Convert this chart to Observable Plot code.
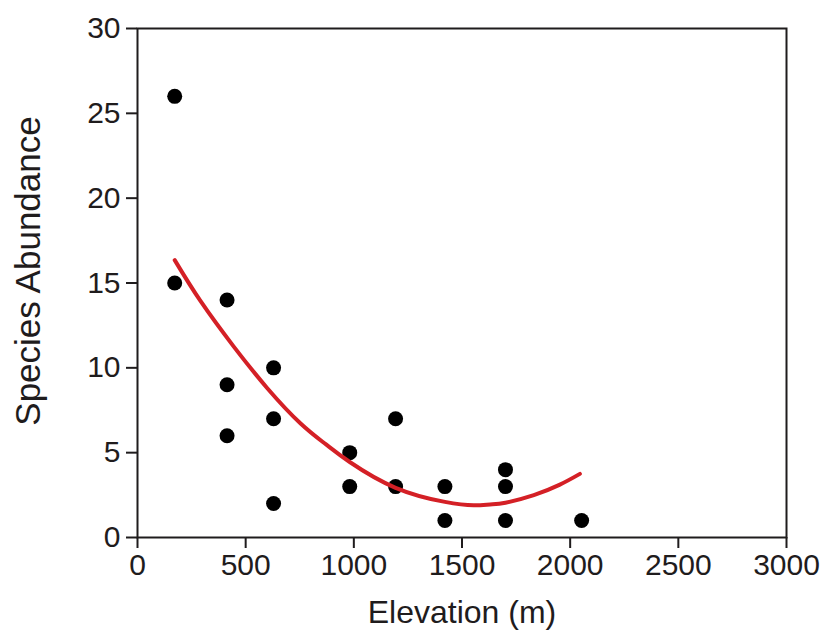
<!DOCTYPE html>
<html>
<head>
<meta charset="utf-8">
<script src="https://cdn.jsdelivr.net/npm/d3@7"></script>
<script src="https://cdn.jsdelivr.net/npm/@observablehq/plot@0.6"></script>
<style>
  html, body { margin: 0; padding: 0; background: #fff; }
</style>
</head>
<body>
<div id="chart"></div>
<script>
// Observed points: elevation (m) and species abundance
const elevation = [172, 172, 414, 414, 414, 629, 629, 629, 981, 981, 1193, 1193, 1421, 1421, 1701, 1701, 1701, 2053];
const abundance = [26, 15, 14, 9, 6, 10, 7, 2, 5, 3, 7, 3, 3, 1, 4, 3, 1, 1];

// Fitted curve
const fitElevation = [172, 291, 445, 600, 754, 870, 981, 1193, 1421, 1554, 1630, 1701, 1832, 1950, 2045];
const fitAbundance = [16.35, 13.94, 11.25, 8.8, 6.72, 5.5, 4.45, 2.93, 2.1, 1.9, 1.95, 2.05, 2.5, 3.1, 3.75];

const xTicks = [0, 500, 1000, 1500, 2000, 2500, 3000];
const yTicks = [0, 5, 10, 15, 20, 25, 30];

const xTitle = "Elevation (m)";
const yTitle = "Species Abundance";

const points = elevation.map((e, i) => ({elevation: e, abundance: abundance[i]}));
const fit = fitElevation.map((e, i) => ({elevation: e, abundance: fitAbundance[i]}));

const ink = "#1f1c1d";

const svg = Plot.plot({
  width: 831,
  height: 634,
  marginLeft: 137,
  marginRight: 45,
  marginTop: 28,
  marginBottom: 97,
  style: {fontFamily: "'Liberation Sans', Arial, sans-serif", fontSize: "30px", color: ink, background: "#fff"},
  x: {domain: [0, 3000]},
  y: {domain: [0, 30]},
  marks: [
    Plot.frame({stroke: ink, strokeWidth: 2}),
    Plot.axisX(xTicks, {tickSize: 11, tickPadding: 5, strokeWidth: 2, stroke: ink, fill: ink, fontSize: 30, tickFormat: d => String(d), label: null}),
    Plot.axisY(yTicks, {tickSize: 11, tickPadding: 6, strokeWidth: 2, stroke: ink, fill: ink, fontSize: 30, tickFormat: d => String(d), label: null}),
    Plot.dot(points, {x: "elevation", y: "abundance", r: 7.5, fill: "#000", stroke: "none"}),
    Plot.line(fit, {x: "elevation", y: "abundance", stroke: "#d42026", strokeWidth: 4, curve: "natural"})
  ]
});

const s = d3.select(svg);
s.append("text")
  .attr("x", 462)
  .attr("y", 623)
  .attr("text-anchor", "middle")
  .attr("fill", ink)
  .style("font-size", "32px")
  .text(xTitle);
s.append("text")
  .attr("transform", "translate(40,271) rotate(-90)")
  .attr("text-anchor", "middle")
  .attr("fill", ink)
  .style("font-size", "35px")
  .text(yTitle);

document.getElementById("chart").appendChild(svg);
</script>
</body>
</html>
